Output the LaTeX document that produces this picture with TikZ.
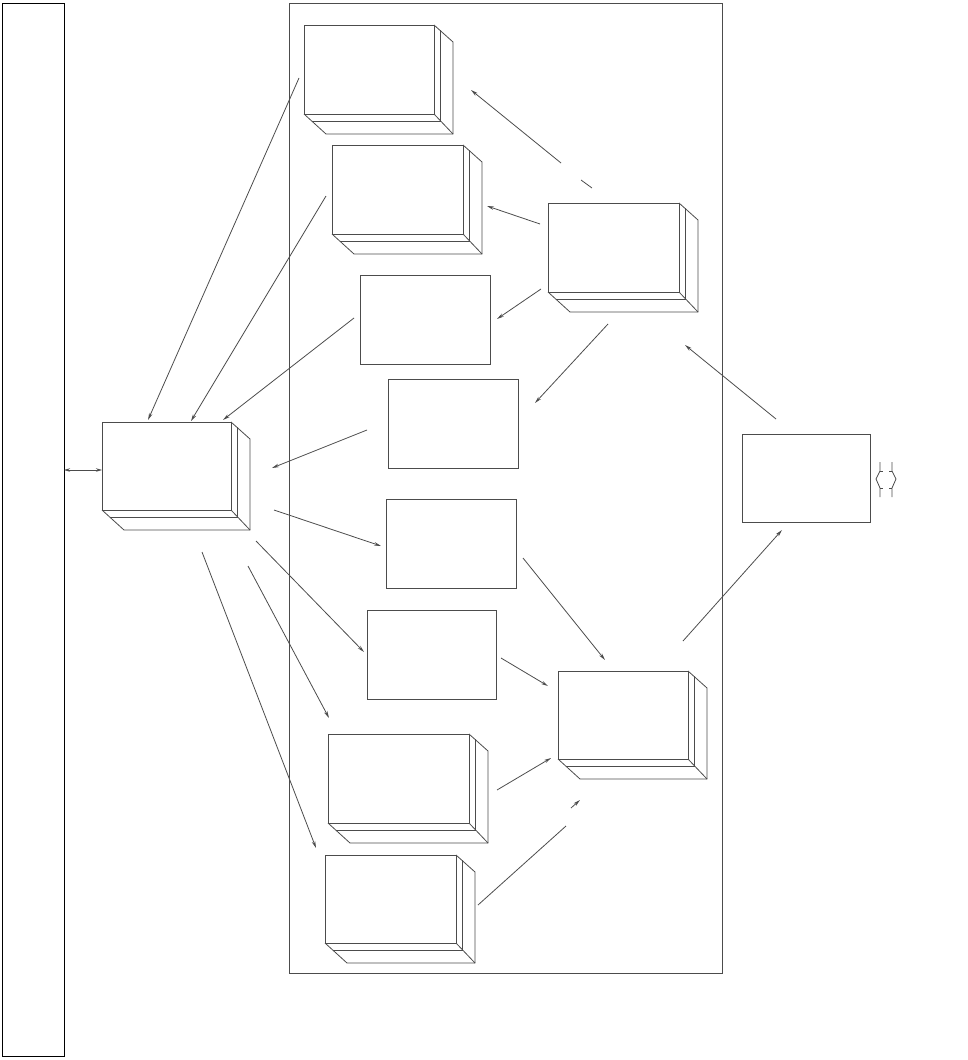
\documentclass[tikz,border=0pt]{standalone}
\usetikzlibrary{arrows.meta,calc}
\tikzset{
  ln/.style={draw=black!70, line width=0.8pt},
  frontbox/.style={ln, rectangle, inner sep=0pt, outer sep=0pt, anchor=north west},
  arr/.style={ln, -{Stealth[length=7pt,width=3.5pt]}},
  darr/.style={ln, {Stealth[length=6pt,width=3.5pt]}-{Stealth[length=6pt,width=3.5pt]}},
}
\newcommand\flatbox[5]{\node[frontbox, minimum width=#4pt, minimum height=#5pt] (#1) at (#2,#3) {};}
\newcommand\solidbox[5]{\flatbox{#1}{#2}{#3}{#4}{#5}
  \draw[ln] (#1.north east) -- ++(19,17) -- ($(#1.south east)+(19,20)$) -- ($(#1.south west)+(22,20)$) -- (#1.south west);
  \draw[ln] (#1.south east) -- ++(19,20);
  \draw[ln] ($(#1.north east)+(6,5.4)$) -- ($(#1.south east)+(6,7)$) -- ($(#1.south west)+(7.7,7)$);}
\begin{document}
\begin{tikzpicture}[x=1pt,y=-1pt]
\useasboundingbox (0,0) rectangle (967,1060);
% frames
\node[frontbox, draw=black, line width=1pt, minimum width=62pt, minimum height=1053pt] (bar) at (2,3) {};
\node[frontbox, minimum width=433pt, minimum height=970pt] (cont) at (289,3) {};
% boxes
\solidbox{B1}{304}{25}{130}{89}
\solidbox{B2}{332}{145}{131}{89}
\solidbox{B6}{548}{203}{131}{89}
\flatbox{P1}{360}{275}{130}{89}
\flatbox{P2}{388}{379}{130}{89}
\solidbox{L}{102}{422}{129}{88}
\flatbox{R}{742}{434}{128}{88}
\flatbox{P3}{386}{499}{130}{89}
\flatbox{P4}{367}{610}{129}{89}
\solidbox{B7}{558}{671}{130}{88}
\solidbox{B3}{328}{734}{141}{89}
\solidbox{B4}{325}{855}{131}{88}
% bar <-> L
\coordinate (lin) at ($(L.north west)+(0,48)$);
\draw[darr] (bar.east |- lin) -- (lin);
% arrows into L
\draw[arr] ($(B1.north west)+(-5,53)$) -- ($(L.north west)+(46,-2)$);
\draw[arr] ($(B2.north west)+(-6,51)$) -- ($(L.north west)+(89,-1)$);
\draw[arr] ($(P1.north west)+(-6,43)$) -- ($(L.north west)+(121,-2)$);
\draw[arr] ($(P2.north west)+(-21,51)$) -- ($(L.north west)+(170,46)$);
% arrows out of L
\draw[arr] ($(L.north west)+(172,88)$) -- ($(P3.north west)+(-5,47)$);
\draw[arr] ($(L.north west)+(154,119)$) -- ($(P4.north west)+(-3,42)$);
\draw[arr] ($(L.north west)+(146,144)$) -- ($(B3.north west)+(1,-16)$);
\draw[arr] ($(L.north west)+(100,130)$) -- ($(B4.north west)+(-9,-7)$);
% arrows from B6
\draw[ln] ($(B6.north west)+(44,-15)$) -- ($(B6.north west)+(33,-23)$);
\draw[arr] ($(B6.north west)+(13,-40)$) -- ($(B1.north west)+(167,65)$);
\draw[arr] ($(B6.north west)+(-8,21)$) -- ($(B2.north west)+(155,61)$);
\draw[arr] ($(B6.north west)+(-7,86)$) -- ($(P1.north west)+(137,44)$);
\draw[arr] ($(B6.north west)+(60,121)$) -- ($(P2.north west)+(147,24)$);
% R and B7
\draw[arr] ($(R.north west)+(34,-15)$) -- ($(B6.north west)+(137,142)$);
\draw[arr] ($(B7.north west)+(125,-30)$) -- ($(R.north west)+(40,96)$);
% arrows into B7
\draw[arr] ($(P3.north west)+(137,59)$) -- ($(B7.north west)+(47,-11)$);
\draw[arr] ($(P4.north west)+(134,48)$) -- ($(B7.north west)+(-10,15)$);
\draw[arr] ($(B3.north west)+(169,56)$) -- ($(B7.north west)+(-7,87)$);
\draw[ln] ($(B4.north west)+(153,50)$) -- ($(B4.north west)+(241,-29)$);
\draw[arr] ($(B7.north west)+(13,137)$) -- ($(B7.north west)+(22,129)$);
% hollow double arrow at right of R
\coordinate (sym) at ($(R.east)+(16,1)$);
\draw[ln] ($(sym)+(-6,-17)$) -- ($(sym)+(-6,-8)$) -- ($(sym)+(-10,0)$) -- ($(sym)+(-6,9)$) -- ($(sym)+(-6,18)$);
\draw[ln] ($(sym)+(6,-17)$) -- ($(sym)+(6,-8)$) -- ($(sym)+(10,0)$) -- ($(sym)+(6,9)$) -- ($(sym)+(6,18)$);
\draw[ln] ($(sym)+(-6,-8)$) -- ($(sym)+(-3,-8)$);
\draw[ln] ($(sym)+(3,-8)$) -- ($(sym)+(6,-8)$);
\draw[ln] ($(sym)+(-6,9)$) -- ($(sym)+(-3,9)$);
\draw[ln] ($(sym)+(3,9)$) -- ($(sym)+(6,9)$);
\end{tikzpicture}
\end{document}
